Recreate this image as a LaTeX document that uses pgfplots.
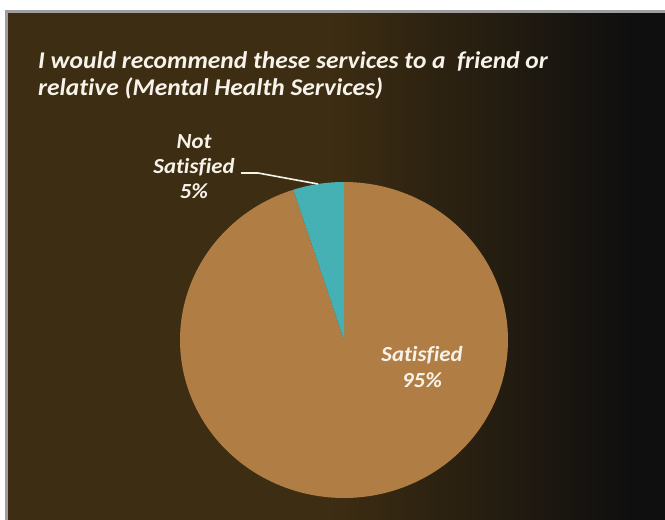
\documentclass[border=0pt]{standalone}
\usepackage{pgfplots}
\pgfplotsset{compat=1.18}
\usepackage{pgfplotstable}
\usepackage{fontspec}
\setmainfont{Carlito}[FakeStretch=1.06, Ligatures=NoCommon]
\definecolor{bgbrown}{HTML}{3D2D12}
\definecolor{bgblack}{HTML}{0F0F0F}
\definecolor{sat}{HTML}{B07E45}
\definecolor{notsat}{HTML}{45B1B4}
\definecolor{txt}{HTML}{F7F3EA}
\pgfplotstableread{
label value
NotSatisfied 5
Satisfied 95
}\piedata
\pgfplotstablegetelem{0}{value}\of\piedata \let\vNot\pgfplotsretval
\pgfplotstablegetelem{1}{value}\of\piedata \let\vSat\pgfplotsretval
\begin{document}
\begin{tikzpicture}[x=1pt,y=1pt]
\useasboundingbox (0,0) rectangle (665,520);
% background
\fill[white] (0,0) rectangle (665,520);
\fill[gray!75] (5,0) rectangle (665,510);
\fill[bgbrown] (8,0) rectangle (331,507);
\foreach \i in {0,...,99} {
  \pgfmathsetmacro{\xa}{330+3*\i}
  \pgfmathsetmacro{\xb}{\xa+3.5}
  \pgfmathtruncatemacro{\pc}{100-\i}
  \fill[bgbrown!\pc!bgblack] (\xa,0) rectangle (\xb,507);
}
\fill[bgblack] (629.5,0) rectangle (665,507);
\begin{axis}[
  at={(0,0)}, anchor=south west,
  x=1pt, y=1pt,
  xmin=0, xmax=665, ymin=0, ymax=520,
  hide axis, clip=false,
]
% pie: centre (344,180), radii 164 x 158
\pgfmathsetmacro{\aA}{90}
\pgfmathsetmacro{\aB}{90+3.6*\vNot}
\pgfmathsetmacro{\aC}{\aB+3.6*\vSat}
\addplot[draw=none, fill=sat, domain=\aB:\aC, samples=200]
  ({344+164*cos(x)},{180+158*sin(x)}) -- (axis cs:344,180) -- cycle;
\addplot[draw=none, fill=notsat, domain=\aA:\aB, samples=30]
  ({344+164*cos(x)},{180+158*sin(x)}) -- (axis cs:344,180) -- cycle;
% leader line
\addplot[txt, line width=1.6pt, mark=none] coordinates {(241,347) (258,347) (318,336)};
% title
\node[anchor=north west, text=txt, align=left, inner sep=0pt,
  font=\fontsize{24}{27}\selectfont\bfseries\itshape]
  at (axis cs:38,469) {I would recommend these services to a\ \ friend or\\relative (Mental Health Services)};
% labels
\node[text=txt, align=center, inner sep=0pt,
  font=\fontsize{21.5}{25}\selectfont\bfseries\itshape]
  at (axis cs:194,353) {Not\\Satisfied\\\vNot\%};
\node[text=txt, align=center, inner sep=0pt,
  font=\fontsize{21.5}{26}\selectfont\bfseries\itshape]
  at (axis cs:422,153) {Satisfied\\\vSat\%};
\end{axis}
\end{tikzpicture}
\end{document}
